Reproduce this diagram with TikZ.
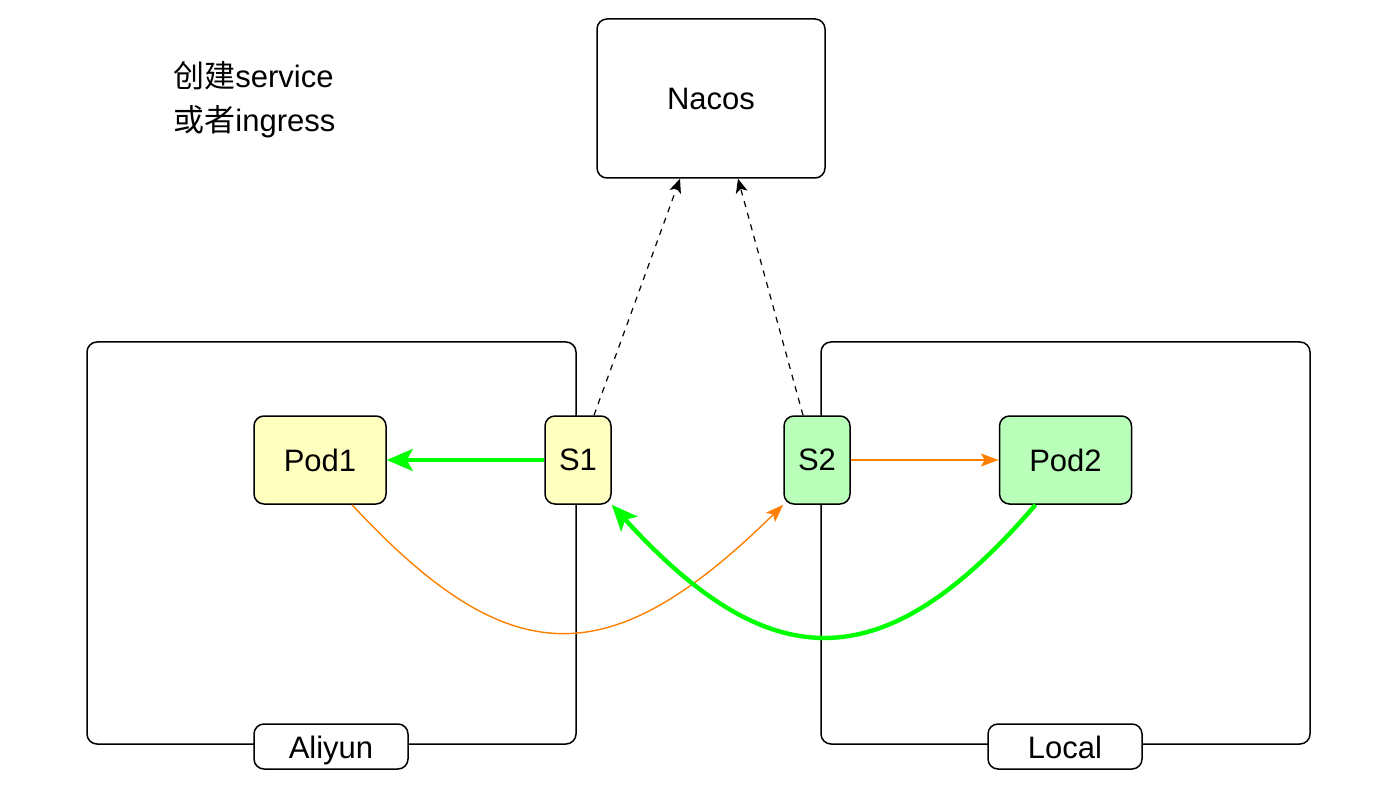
\documentclass[tikz,border=0pt]{standalone}
\usepackage{fontspec}
\setmainfont{Liberation Sans}
\newfontfamily\cjk{Noto Sans CJK SC}
\usetikzlibrary{arrows.meta}
\definecolor{podyellow}{RGB}{255,255,192}
\definecolor{podgreen}{RGB}{185,255,185}
\definecolor{linkgreen}{RGB}{0,255,0}
\definecolor{linkorange}{RGB}{255,128,0}
\begin{document}
\begin{tikzpicture}[x=0.5pt,y=-0.5pt,
    font=\fontsize{15.5}{22}\selectfont,
    box/.style={draw,line width=0.75pt,rounded corners=5pt,inner sep=0pt},
    cloud/.style={box,minimum width=244.5pt,minimum height=201pt},
    tag/.style={box,fill=white,minimum width=77pt,minimum height=22.5pt,text height=12pt,text depth=0pt},
    pod/.style={box,minimum width=66pt,minimum height=44pt},
    svc/.style={box,minimum width=33pt,minimum height=44pt},
    reg/.style={dashed,dash pattern=on 3pt off 3pt,line width=0.6pt,-{Stealth[length=7pt,width=6pt,inset=1.8pt]}},
    thin/.style={linkorange,line width=0.7pt,-{Stealth[length=9pt,width=6.5pt,inset=2pt]}},
    thick/.style={linkgreen,line width=2.2pt,-{Stealth[length=13pt,width=11pt,inset=3pt]}}]
  \useasboundingbox (0,0) rectangle (1400,790);
  \draw
    (331.5,543) node[cloud] (aliyun){}
    (1065.5,543) node[cloud] (local){}
    (331,746.5) node[tag] (aliyunlabel){Aliyun}
    (1065,746.5) node[tag] (locallabel){Local}
    (711,98.5) node[box,minimum width=114pt,minimum height=79.5pt] (nacos){Nacos}
    (320,460) node[pod,fill=podyellow] (pod1){Pod1}
    (578,460) node[svc,fill=podyellow] (s1){S1}
    (817,460) node[svc,fill=podgreen] (s2){S2}
    (1065.5,460) node[pod,fill=podgreen] (pod2){Pod2}
    (173,100) node[anchor=west,align=left,inner sep=0pt] (note){{\cjk 创建}service\\{\cjk 或者}ingress};
  \begin{scope}
    \draw[reg] ([xshift=8pt]s1.north) to ([xshift=-15.5pt]nacos.south);
    \draw[reg] ([xshift=-7pt]s2.north) to ([xshift=13.5pt]nacos.south);
    \draw[thick] (s1.west) to (pod1.east);
    \draw[thin] (s2.east) to (pod2.west);
    \draw[thin] ([xshift=16pt]pod1.south) .. controls (510,675) and (610,675) .. (s2.south west);
    \draw[thick] ([xshift=-15pt]pod2.south) .. controls (885,680) and (771,680) .. (s1.south east);
  \end{scope}
\end{tikzpicture}
\end{document}
